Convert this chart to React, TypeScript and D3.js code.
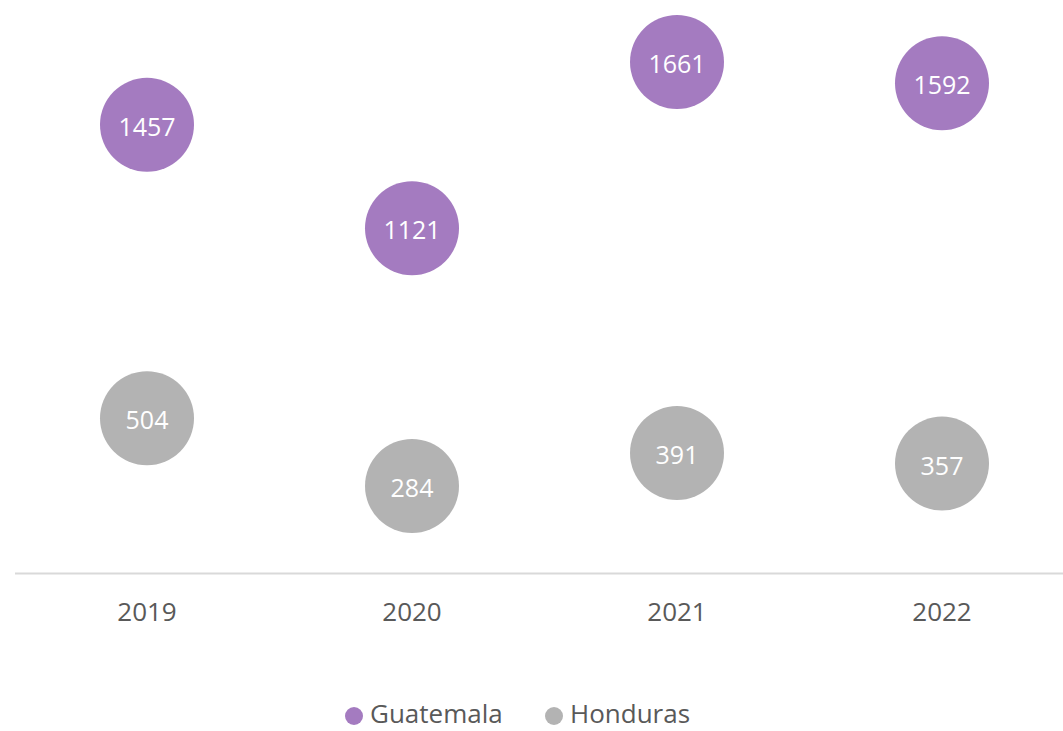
import React from "react";
import * as d3 from "d3";

const years = ["2019", "2020", "2021", "2022"];
const guatemala = [1457, 1121, 1661, 1592];
const honduras = [504, 284, 391, 357];
const seriesNames = ["Guatemala", "Honduras"];
const seriesColors = ["#A47BC0", "#B3B3B3"];

const W = 1063;
const H = 731;
const FONT = "'Open Sans', 'Noto Sans', sans-serif";

export default function App() {
  const x = d3.scaleBand<string>().domain(years).range([14.5, 1074.5]);
  const y = d3.scaleLinear().domain([0, 1800]).range([573.5, 19.2]);
  const r = 47;
  const series = [guatemala, honduras];

  return (
    <svg
      width={W}
      height={H}
      style={{ position: "absolute", left: 0, top: 0, display: "block", background: "#fff" }}
    >
      <line x1={15} x2={W} y1={y(0)} y2={y(0)} stroke="#D9D9D9" strokeWidth={2} />
      {years.map((yr) => (
        <text
          key={yr}
          x={x(yr)! + x.bandwidth() / 2}
          y={611}
          textAnchor="middle"
          dominantBaseline="central"
          fontFamily={FONT}
          fontSize={26}
          fill="#595959"
        >
          {yr}
        </text>
      ))}
      {series.map((vals, si) =>
        vals.map((v, i) => {
          const cx = x(years[i])! + x.bandwidth() / 2;
          const cy = y(v);
          return (
            <g key={`${si}-${i}`}>
              <circle cx={cx} cy={cy} r={r} fill={seriesColors[si]} />
              <text
                x={cx}
                y={cy + 1}
                textAnchor="middle"
                dominantBaseline="central"
                fontFamily={FONT}
                fontSize={25}
                fill="#FFFFFF"
              >
                {v}
              </text>
            </g>
          );
        })
      )}
      {seriesNames.map((name, i) => {
        const lx = [354, 554][i];
        return (
          <g key={name}>
            <circle cx={lx} cy={716} r={9} fill={seriesColors[i]} />
            <text
              x={lx + 16}
              y={713}
              dominantBaseline="central"
              fontFamily={FONT}
              fontSize={26}
              fill="#595959"
            >
              {name}
            </text>
          </g>
        );
      })}
    </svg>
  );
}
